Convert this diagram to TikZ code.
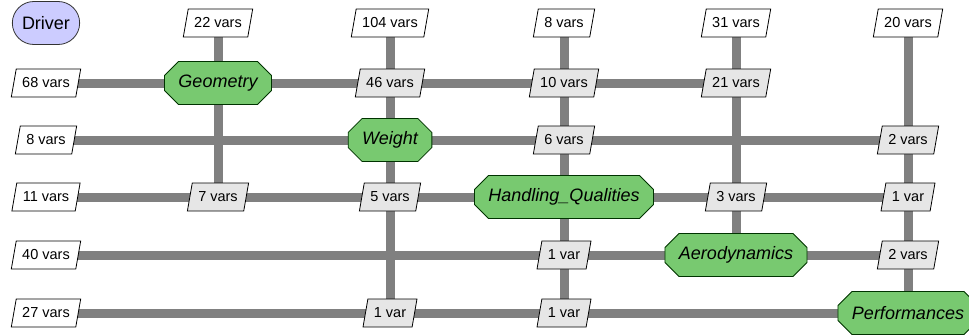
\documentclass[tikz,border=0pt]{standalone}
\usepackage{fontspec}
\setmainfont{Liberation Sans}
\usetikzlibrary{shapes.geometric,shapes.misc,backgrounds}
\definecolor{compgreen}{RGB}{120,201,112}
\definecolor{drvblue}{RGB}{204,204,255}
\definecolor{cplgray}{RGB}{230,230,230}
\definecolor{pipegray}{RGB}{128,128,128}
\begin{document}
\begin{tikzpicture}[x=1pt,y=-1pt,
  pipe/.style={draw=pipegray,line width=9pt},
  varbox/.style={trapezium,trapezium left angle=71,trapezium right angle=109,
    trapezium stretches body,draw=black,line width=0.8pt,minimum height=28pt,
    inner xsep=6pt,inner ysep=2pt,font=\fontsize{14.5}{16}\selectfont},
  inbox/.style={varbox,fill=white},
  cpl/.style={varbox,fill=cplgray},
  comp/.style={chamfered rectangle,chamfered rectangle xsep=7pt,
    chamfered rectangle ysep=7pt,draw=black!80!green,line width=0.8pt,
    fill=compgreen,minimum height=43pt,inner xsep=7pt,
    font=\fontsize{18}{20}\selectfont\itshape},
  drv/.style={rounded rectangle,draw=black!80,line width=0.8pt,fill=drvblue,
    minimum width=74pt,minimum height=43pt,font=\fontsize{18}{20}\selectfont}]
\useasboundingbox (0,0) rectangle (969,335);

% grid positions
\def\xa{46}\def\xb{218}\def\xc{390}\def\xd{564}\def\xe{736}\def\xf{908}
\def\ya{23}\def\yb{83}\def\yc{140}\def\yd{197}\def\ye{255}\def\yf{313}

% driver and external inputs
\node[drv] (drv) at (\xa,\ya) {Driver};
\node[inbox] (t1) at (\xb,\ya) {22 vars};
\node[inbox] (t2) at (\xc,\ya) {104 vars};
\node[inbox] (t3) at (\xd,\ya) {8 vars};
\node[inbox] (t4) at (\xe,\ya) {31 vars};
\node[inbox] (t5) at (\xf,\ya) {20 vars};
\node[inbox] (l1) at (\xa,\yb) {68 vars};
\node[inbox] (l2) at (\xa,\yc) {8 vars};
\node[inbox] (l3) at (\xa,\yd) {11 vars};
\node[inbox] (l4) at (\xa,\ye) {40 vars};
\node[inbox] (l5) at (\xa,\yf) {27 vars};

% disciplines
\node[comp] (geo) at (\xb,\yb) {Geometry};
\node[comp] (wgt) at (\xc,\yc) {Weight};
\node[comp] (hq) at (\xd,\yd) {Handling\_Qualities};
\node[comp] (aero) at (\xe,\ye) {Aerodynamics};
\node[comp] (perf) at (\xf,\yf) {Performances};

% couplings
\node[cpl] (c12) at (\xc,\yb) {46 vars};
\node[cpl] (c13) at (\xd,\yb) {10 vars};
\node[cpl] (c14) at (\xe,\yb) {21 vars};
\node[cpl] (c23) at (\xd,\yc) {6 vars};
\node[cpl] (c25) at (\xf,\yc) {2 vars};
\node[cpl] (c31) at (\xb,\yd) {7 vars};
\node[cpl] (c32) at (\xc,\yd) {5 vars};
\node[cpl] (c34) at (\xe,\yd) {3 vars};
\node[cpl] (c35) at (\xf,\yd) {1 var};
\node[cpl] (c43) at (\xd,\ye) {1 var};
\node[cpl] (c45) at (\xf,\ye) {2 vars};
\node[cpl] (c52) at (\xc,\yf) {1 var};
\node[cpl] (c53) at (\xd,\yf) {1 var};

% data lines behind the boxes
\begin{pgfonlayer}{background}
  \draw[pipe] (l1.center) -- (c14.center);
  \draw[pipe] (l2.center) -- (c25.center);
  \draw[pipe] (l3.center) -- (c35.center);
  \draw[pipe] (l4.center) -- (c45.center);
  \draw[pipe] (l5.center) -- (perf.center);
  \draw[pipe] (t1.center) -- (c31.center);
  \draw[pipe] (t2.center) -- (c52.center);
  \draw[pipe] (t3.center) -- (c53.center);
  \draw[pipe] (t4.center) -- (aero.center);
  \draw[pipe] (t5.center) -- (perf.center);
\end{pgfonlayer}
\end{tikzpicture}
\end{document}
